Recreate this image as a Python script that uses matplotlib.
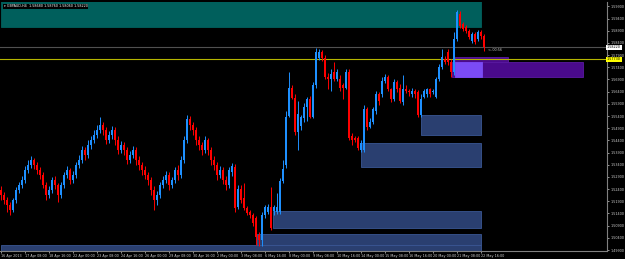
import matplotlib
matplotlib.use("Agg")
import matplotlib.pyplot as plt
from matplotlib.patches import Rectangle
import numpy as np

symbol = "GBPAUD,H4"

date_labels = ["16 Apr 2013", "17 Apr 08:00", "18 Apr 16:00", "22 Apr 00:00", "23 Apr 08:00",
               "24 Apr 16:00", "26 Apr 00:00", "29 Apr 08:00", "30 Apr 16:00", "2 May 00:00",
               "3 May 08:00", "6 May 16:00", "8 May 00:00", "9 May 08:00", "10 May 16:00",
               "14 May 00:00", "15 May 08:00", "16 May 16:00", "20 May 00:00", "21 May 08:00",
               "22 May 16:00"]

# H4 candles
opens = [1.5237, 1.5217, 1.5196, 1.5175, 1.5155, 1.5196, 1.5237, 1.5258, 1.5278, 1.5320,
         1.5340, 1.5361, 1.5340, 1.5320, 1.5299, 1.5258, 1.5217, 1.5237, 1.5278, 1.5258,
         1.5217, 1.5258, 1.5299, 1.5320, 1.5278, 1.5299, 1.5340, 1.5361, 1.5402, 1.5381,
         1.5423, 1.5443, 1.5464, 1.5484, 1.5505, 1.5484, 1.5443, 1.5464, 1.5484, 1.5443,
         1.5402, 1.5423, 1.5402, 1.5361, 1.5381, 1.5402, 1.5361, 1.5340, 1.5320, 1.5299,
         1.5278, 1.5237, 1.5196, 1.5217, 1.5258, 1.5278, 1.5299, 1.5258, 1.5278, 1.5320,
         1.5299, 1.5361, 1.5443, 1.5526, 1.5505, 1.5484, 1.5443, 1.5423, 1.5402, 1.5443,
         1.5402, 1.5361, 1.5340, 1.5299, 1.5320, 1.5278,
         1.5258, 1.5311, 1.5332, 1.5167, 1.5241, 1.5204, 1.5163, 1.5147, 1.5134, 1.5122,
         1.5052, 1.5031, 1.5134, 1.5147, 1.5167, 1.5151, 1.5147, 1.5147, 1.5274, 1.5340,
         1.5542, 1.5653, 1.5616, 1.5476, 1.5501, 1.5530, 1.5579, 1.5608, 1.5538, 1.5666,
         1.5777, 1.5802, 1.5777, 1.5699, 1.5690, 1.5719, 1.5690, 1.5690, 1.5666, 1.5657,
         1.5719, 1.5456, 1.5451, 1.5451, 1.5402, 1.5402, 1.5567, 1.5497, 1.5517, 1.5559,
         1.5629, 1.5629, 1.5682, 1.5699, 1.5649, 1.5608, 1.5678, 1.5657, 1.5596, 1.5649,
         1.5641, 1.5629, 1.5641, 1.5637, 1.5546, 1.5620, 1.5629, 1.5649, 1.5637, 1.5620,
         1.5690, 1.5740, 1.5773, 1.5802, 1.5760, 1.5719, 1.5855, 1.5958, 1.5917, 1.5905,
         1.5888, 1.5847, 1.5876, 1.5855, 1.5884, 1.5868]
highs = [1.5254, 1.5229, 1.5208, 1.5188, 1.5204, 1.5250, 1.5270, 1.5295, 1.5336, 1.5361,
         1.5377, 1.5369, 1.5353, 1.5332, 1.5311, 1.5270, 1.5254, 1.5291, 1.5295, 1.5266,
         1.5270, 1.5311, 1.5336, 1.5328, 1.5315, 1.5353, 1.5381, 1.5418, 1.5414, 1.5443,
         1.5460, 1.5484, 1.5505, 1.5534, 1.5517, 1.5497, 1.5480, 1.5501, 1.5493, 1.5456,
         1.5439, 1.5435, 1.5414, 1.5398, 1.5418, 1.5414, 1.5377, 1.5353, 1.5336, 1.5311,
         1.5291, 1.5254, 1.5233, 1.5270, 1.5295, 1.5315, 1.5311, 1.5291, 1.5332, 1.5340,
         1.5377, 1.5456, 1.5546, 1.5542, 1.5517, 1.5497, 1.5460, 1.5435, 1.5456, 1.5451,
         1.5414, 1.5377, 1.5353, 1.5336, 1.5332, 1.5295,
         1.5332, 1.5348, 1.5344, 1.5258, 1.5258, 1.5266, 1.5171, 1.5155, 1.5142, 1.5130,
         1.5064, 1.5147, 1.5175, 1.5180, 1.5250, 1.5175, 1.5225, 1.5287, 1.5361, 1.5559,
         1.5719, 1.5666, 1.5629, 1.5600, 1.5546, 1.5592, 1.5620, 1.5624, 1.5678, 1.5818,
         1.5814, 1.5810, 1.5789, 1.5715, 1.5732, 1.5760, 1.5732, 1.5707, 1.5674, 1.5732,
         1.5732, 1.5472, 1.5460, 1.5460, 1.5443, 1.5587, 1.5575, 1.5530, 1.5575, 1.5641,
         1.5637, 1.5699, 1.5711, 1.5707, 1.5657, 1.5690, 1.5686, 1.5670, 1.5707, 1.5666,
         1.5649, 1.5657, 1.5649, 1.5645, 1.5629, 1.5649, 1.5657, 1.5657, 1.5649, 1.5699,
         1.5752, 1.5814, 1.5785, 1.5814, 1.5773, 1.5884, 1.5975, 1.5971, 1.5925, 1.5913,
         1.5896, 1.5884, 1.5884, 1.5892, 1.5892, 1.5876]
lows = [1.5196, 1.5180, 1.5147, 1.5134, 1.5147, 1.5184, 1.5225, 1.5245, 1.5266, 1.5307,
        1.5328, 1.5324, 1.5303, 1.5283, 1.5245, 1.5196, 1.5204, 1.5225, 1.5241, 1.5188,
        1.5204, 1.5245, 1.5287, 1.5262, 1.5266, 1.5287, 1.5328, 1.5348, 1.5361, 1.5369,
        1.5406, 1.5431, 1.5451, 1.5472, 1.5464, 1.5427, 1.5431, 1.5447, 1.5423, 1.5386,
        1.5390, 1.5381, 1.5344, 1.5348, 1.5369, 1.5340, 1.5320, 1.5299, 1.5283, 1.5258,
        1.5217, 1.5155, 1.5175, 1.5204, 1.5245, 1.5266, 1.5237, 1.5245, 1.5266, 1.5278,
        1.5287, 1.5348, 1.5431, 1.5484, 1.5464, 1.5423, 1.5402, 1.5381, 1.5390, 1.5381,
        1.5340, 1.5320, 1.5278, 1.5287, 1.5262, 1.5237,
        1.5245, 1.5295, 1.5147, 1.5159, 1.5184, 1.5155, 1.5134, 1.5122, 1.5089, 1.5011,
        1.5007, 1.5007, 1.5122, 1.5138, 1.5072, 1.5134, 1.5138, 1.5138, 1.5266, 1.5328,
        1.5534, 1.5608, 1.5464, 1.5402, 1.5484, 1.5517, 1.5521, 1.5530, 1.5530, 1.5657,
        1.5769, 1.5765, 1.5690, 1.5649, 1.5641, 1.5682, 1.5682, 1.5641, 1.5608, 1.5649,
        1.5443, 1.5423, 1.5435, 1.5402, 1.5394, 1.5394, 1.5484, 1.5489, 1.5509, 1.5550,
        1.5587, 1.5620, 1.5674, 1.5641, 1.5596, 1.5600, 1.5637, 1.5592, 1.5587, 1.5633,
        1.5624, 1.5620, 1.5616, 1.5538, 1.5538, 1.5612, 1.5620, 1.5620, 1.5629, 1.5612,
        1.5682, 1.5732, 1.5752, 1.5748, 1.5699, 1.5707, 1.5847, 1.5901, 1.5888, 1.5880,
        1.5855, 1.5839, 1.5835, 1.5847, 1.5855, 1.5806]
closes = [1.5217, 1.5196, 1.5175, 1.5155, 1.5196, 1.5237, 1.5258, 1.5278, 1.5320, 1.5340,
          1.5361, 1.5340, 1.5320, 1.5299, 1.5258, 1.5217, 1.5237, 1.5278, 1.5258, 1.5217,
          1.5258, 1.5299, 1.5320, 1.5278, 1.5299, 1.5340, 1.5361, 1.5402, 1.5381, 1.5423,
          1.5443, 1.5464, 1.5484, 1.5505, 1.5484, 1.5443, 1.5464, 1.5484, 1.5443, 1.5402,
          1.5423, 1.5402, 1.5361, 1.5381, 1.5402, 1.5361, 1.5340, 1.5320, 1.5299, 1.5278,
          1.5237, 1.5196, 1.5217, 1.5258, 1.5278, 1.5299, 1.5258, 1.5278, 1.5320, 1.5299,
          1.5361, 1.5443, 1.5526, 1.5505, 1.5484, 1.5443, 1.5423, 1.5402, 1.5443, 1.5402,
          1.5361, 1.5340, 1.5299, 1.5320, 1.5278, 1.5258,
          1.5320, 1.5336, 1.5163, 1.5241, 1.5196, 1.5163, 1.5142, 1.5134, 1.5101, 1.5044,
          1.5031, 1.5134, 1.5167, 1.5167, 1.5081, 1.5167, 1.5167, 1.5274, 1.5324, 1.5538,
          1.5653, 1.5616, 1.5476, 1.5550, 1.5534, 1.5579, 1.5608, 1.5538, 1.5666, 1.5802,
          1.5802, 1.5777, 1.5699, 1.5690, 1.5711, 1.5690, 1.5719, 1.5657, 1.5657, 1.5719,
          1.5451, 1.5443, 1.5443, 1.5410, 1.5431, 1.5567, 1.5497, 1.5517, 1.5567, 1.5629,
          1.5600, 1.5682, 1.5699, 1.5649, 1.5608, 1.5678, 1.5649, 1.5600, 1.5649, 1.5641,
          1.5637, 1.5641, 1.5629, 1.5546, 1.5608, 1.5641, 1.5649, 1.5629, 1.5641, 1.5690,
          1.5740, 1.5781, 1.5760, 1.5760, 1.5719, 1.5855, 1.5966, 1.5909, 1.5896, 1.5888,
          1.5863, 1.5876, 1.5843, 1.5884, 1.5868, 1.5822]

# zones: (first bar, last bar, low, high)
teal_zone = (-0.2, 160.2, 1.5905, 1.6020)
blue_zones = [(140.2, 160.2, 1.5464, 1.5546),
              (120.2, 160.2, 1.5332, 1.5431),
              (90.8, 160.2, 1.5081, 1.5151),
              (85.5, 160.2, 1.5011, 1.5056),
              (-0.2, 160.2, 1.4960, 1.5011)]
purple_dark = [(151.5, 169.2, 1.5760, 1.5781), (150.5, 194.2, 1.5699, 1.5760)]
purple_light = (151.3, 160.5, 1.5699, 1.5760)

level_price = 1.5773
timer_text = "<--00:56"

FS = 2.4

fig = plt.figure(figsize=(6.25, 2.59), dpi=100, facecolor="black")
ax = fig.add_axes([0.0, 8 / 259, 607 / 625, 249 / 259], facecolor="black")

def rect(ax, z, color, ec=None, z_order=1):
    x0, x1, lo, hi = z
    ax.add_patch(Rectangle((x0, lo), x1 - x0, hi - lo, facecolor=color,
                           edgecolor=ec if ec else color, linewidth=0.6, zorder=z_order))

rect(ax, teal_zone, "#005f5c")
for z in blue_zones:
    rect(ax, z, "#2a3f70", ec="#3a5694")
for z in purple_dark:
    rect(ax, z, "#4a0a8c", ec="#5a1aa0")
rect(ax, purple_light, "#7b4bf5", z_order=2)

bid_price = closes[-1]
ax.axhline(bid_price, color="#505050", linewidth=0.8, zorder=3)
ax.axhline(level_price, color="#b5b500", linewidth=0.8, zorder=3)

x = np.arange(len(closes))
o = np.array(opens)
c = np.array(closes)
h = np.array(highs)
l = np.array(lows)
up = c >= o
cols = np.where(up, "#1e90ff", "#ff0000")
ax.vlines(x, l, h, colors=cols, linewidth=0.7, zorder=4)
ax.bar(x, np.maximum(np.abs(c - o), 0.0002), bottom=np.minimum(o, c), width=0.7,
       color=cols, linewidth=0, zorder=5)

ax.text(162.5, bid_price - 0.0012, timer_text, color="#c0c0c0", fontsize=FS,
        va="center", ha="left", zorder=6)

ax.set_xlim(-0.4, 202.2)
ax.set_ylim(1.4986, 1.6008)

yt = 1.4990 + 0.005 * np.arange(21)
ax.yaxis.tick_right()
ax.set_yticks(yt)
ax.set_yticklabels([f"{v:.5f}" for v in yt])
ax.set_xticks(np.arange(0, 161, 8))
ax.set_xticklabels(date_labels, ha="left")
ax.tick_params(colors="#d0d0d0", labelsize=FS, length=1.5, width=0.5, pad=1)
for s in ["top", "left"]:
    ax.spines[s].set_visible(False)
for s in ["right", "bottom"]:
    ax.spines[s].set_color("#808080")
    ax.spines[s].set_linewidth(0.8)

ax.text(1.0, bid_price, f"{bid_price:.5f}", transform=ax.get_yaxis_transform(),
        fontsize=FS, color="black", va="center", ha="left",
        bbox=dict(boxstyle="square,pad=0.2", fc="white", ec="none"), zorder=7, clip_on=False)
ax.text(1.0, level_price, f"{level_price:.5f}", transform=ax.get_yaxis_transform(),
        fontsize=FS, color="black", va="center", ha="left",
        bbox=dict(boxstyle="square,pad=0.2", fc="#ffff00", ec="none"), zorder=7, clip_on=False)

title = f"\u25BE {symbol}  {opens[-1]:.5f} {highs[-1]:.5f} {lows[-1]:.5f} {closes[-1]:.5f}"
ax.text(0.006, 0.99, title, transform=ax.transAxes, fontsize=FS,
        color="white", va="top", ha="left",
        bbox=dict(boxstyle="square,pad=0.15", fc="black", ec="none"), zorder=8)

fig.savefig("out.png", dpi=100, facecolor="black")
